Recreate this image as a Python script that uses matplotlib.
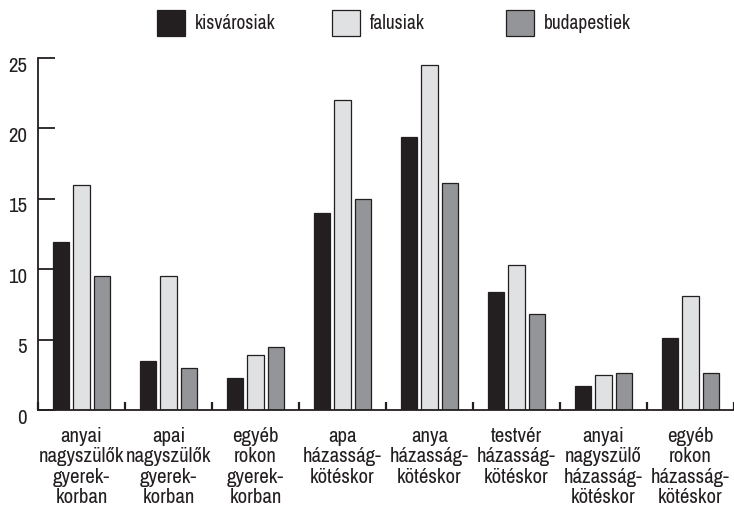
import matplotlib
matplotlib.use("Agg")
import matplotlib.pyplot as plt
import matplotlib.transforms as mtransforms
from matplotlib.patches import Patch
import numpy as np

plt.rcParams["font.family"] = ["Archivo Narrow", "Roboto Condensed", "DejaVu Sans"]

categories = [
    "anyai\nnagyszülők\ngyerek-\nkorban",
    "apai\nnagyszülők\ngyerek-\nkorban",
    "egyéb\nrokon\ngyerek-\nkorban",
    "apa\nházasság-\nkötéskor",
    "anya\nházasság-\nkötéskor",
    "testvér\nházasság-\nkötéskor",
    "anyai\nnagyszülő\nházasság-\nkötéskor",
    "egyéb\nrokon\nházasság-\nkötéskor",
]

kisvarosiak = [11.9, 3.5, 2.3, 14.0, 19.4, 8.4, 1.7, 5.1]
falusiak = [16.0, 9.5, 3.9, 22.0, 24.5, 10.3, 2.5, 8.1]
budapestiek = [9.5, 3.0, 4.5, 15.0, 16.1, 6.8, 2.6, 2.6]

series_names = ["kisvárosiak", "falusiak", "budapestiek"]
colors = ["#231f20", "#e0e1e3", "#939598"]

fig = plt.figure(figsize=(7.34, 5.11), dpi=100)
ax = fig.add_axes([38 / 734, 1 - 410 / 511, 1 - 38 / 734, (410 - 58) / 511])

x = np.arange(len(categories))
width = 0.184
step = 0.23

for i, (vals, col) in enumerate(zip([kisvarosiak, falusiak, budapestiek], colors)):
    ax.bar(x + (i - 1) * step, vals, width=width, color=col,
           edgecolor="#231f20", linewidth=0.9, zorder=2)

ax.set_xlim(-0.5, len(categories) - 0.5)
ax.set_ylim(0, 25)

for side in ["top", "right"]:
    ax.spines[side].set_visible(False)
for side in ["left", "bottom"]:
    ax.spines[side].set_linewidth(1.3)
    ax.spines[side].set_color("#231f20")

ax.set_yticks([0, 5, 10, 15, 20, 25])
ax.tick_params(axis="y", direction="in", length=12, width=1.3,
               labelsize=15, pad=8, color="#231f20", labelcolor="#231f20")
offset = mtransforms.ScaledTranslation(0, -6 / 100, fig.dpi_scale_trans)
for lab in ax.get_yticklabels():
    lab.set_transform(lab.get_transform() + offset)

ax.set_xticks(x)
ax.set_xticklabels(categories, fontsize=15, linespacing=1.1, color="#231f20")
ax.tick_params(axis="x", which="major", length=0, pad=12)
ax.set_xticks(np.arange(len(categories) + 1) - 0.5, minor=True)
ax.tick_params(axis="x", which="minor", direction="in", length=6, width=1.6,
               color="#231f20")

# legend: one entry per block so the swatches sit at even spacing
legend_x = [157, 332, 506]
for name, col, lx in zip(series_names, colors, legend_x):
    h = Patch(facecolor=col, edgecolor="#231f20", linewidth=0.9)
    fig.legend([h], [name], loc="upper left",
               bbox_to_anchor=(lx / 734, 1 - 10 / 511), frameon=False,
               fontsize=14, labelcolor="#231f20", handlelength=1.44,
               handleheight=1.7, handletextpad=0.51, borderpad=0,
               borderaxespad=0)

fig.savefig("out.png", dpi=100)
